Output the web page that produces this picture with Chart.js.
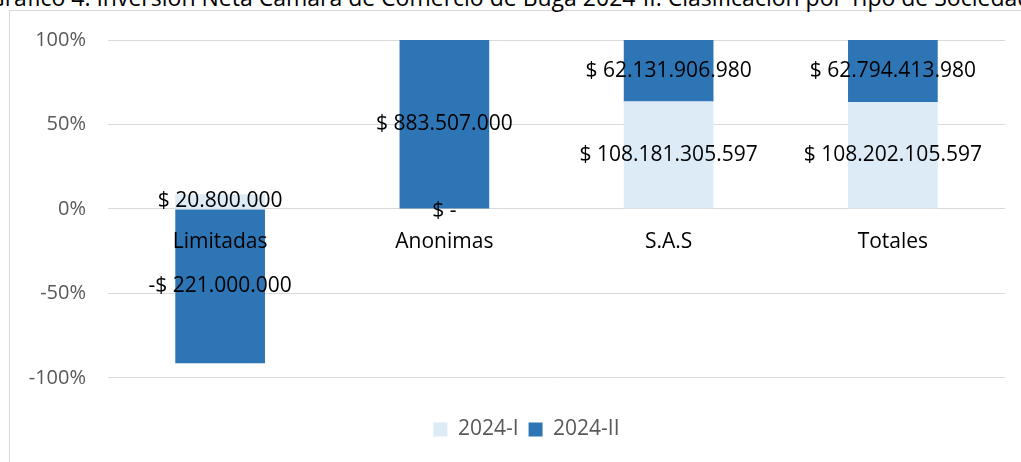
<!DOCTYPE html>
<html>
<head>
<meta charset="utf-8">
<script src="https://cdn.jsdelivr.net/npm/chart.js@4.4.0/dist/chart.umd.min.js"></script>
<style>
  html, body { margin: 0; padding: 0; background: #ffffff; overflow: hidden; }
  #wrap { position: relative; width: 1021px; height: 462px; overflow: hidden; }
  #frame { position: absolute; left: 9px; top: 10px; width: 1100px; height: 500px; border: 1px solid #d9d9d9; box-sizing: border-box; }
  #title { position: absolute; left: -12px; top: -14px; white-space: nowrap; font-family: "Open Sans", sans-serif; font-size: 23px; line-height: 23px; color: #000; }
  #c { position: absolute; left: 0; top: 0; }
</style>
</head>
<body>
<div id="wrap">
  <div id="frame"></div>
  <div id="title">Gráfico 4. Inversión Neta Cámara de Comercio de Buga 2024-II. Clasificación por Tipo de Sociedad</div>
  <canvas id="c" width="1021" height="462"></canvas>
</div>
<script>
const categories = ["Limitadas", "Anonimas", "S.A.S", "Totales"];
const seriesNames = ["2024-I", "2024-II"];
const values2024I = [20800000, 0, 108181305597, 108202105597];
const values2024II = [-221000000, 883507000, 62131906980, 62794413980];
const yTicks = [-100, -50, 0, 50, 100];
const colors = ["#DDEBF7", "#2E75B6"];

const raw = [values2024I, values2024II];
// 100% stacked share (as the spreadsheet does: value / sum of absolute values)
const shares = raw.map(arr => arr.map((v, i) => {
  const tot = raw.reduce((s, a) => s + Math.abs(a[i]), 0);
  return tot ? v / tot * 100 : 0;
}));

function fmt(v) {
  if (v === 0) return "$ -";
  const s = Math.abs(v).toString().replace(/\B(?=(\d{3})+(?!\d))/g, ".");
  return (v < 0 ? "-" : "") + "$ " + s;
}

const FONT = "'Open Sans', sans-serif";

const labelPlugin = {
  id: "segLabels",
  afterLayout(chart) {
    // Excel centres the legend slightly right of the canvas centre
    const lg = chart.legend;
    if (lg) { lg.left += 19; lg.right += 19; }
  },
  afterDatasetsDraw(chart) {
    const ctx = chart.ctx;
    ctx.save();
    ctx.font = "21px " + FONT;
    ctx.fillStyle = "#000000";
    ctx.textAlign = "center";
    ctx.textBaseline = "middle";
    chart.data.datasets.forEach((ds, di) => {
      const meta = chart.getDatasetMeta(di);
      meta.data.forEach((el, i) => {
        const y = (el.y + el.base) / 2;
        ctx.fillText(fmt(raw[di][i]), el.x, y + (raw[di][i] === 0 ? 2 : 0));
      });
    });
    ctx.restore();
  }
};

new Chart(document.getElementById("c"), {
  type: "bar",
  data: {
    labels: categories,
    datasets: seriesNames.map((n, k) => ({
      label: n,
      data: shares[k],
      backgroundColor: colors[k],
      borderWidth: 0,
      barPercentage: 0.4,
      categoryPercentage: 1.0
    }))
  },
  options: {
    responsive: false,
    animation: false,
    devicePixelRatio: 1,
    layout: { padding: { left: 10, right: 16, top: 40, bottom: 12 } },
    plugins: {
      legend: {
        position: "bottom",
        title: { display: true, text: "", font: { size: 1 }, padding: { top: 30, bottom: 0 } },
        labels: {
          boxWidth: 14, boxHeight: 14, padding: 10,
          font: { family: FONT, size: 21 }, color: "#595959"
        }
      },
      tooltip: { enabled: false }
    },
    scales: {
      x: {
        stacked: true,
        position: { y: 0 },
        grid: { display: false },
        border: { display: false },
        ticks: { z: 1, font: { family: FONT, size: 21 }, color: "#000000", padding: 13, maxRotation: 0 }
      },
      y: {
        stacked: true,
        min: -100, max: 100,
        afterBuildTicks: s => { s.ticks = yTicks.map(v => ({ value: v })); },
        afterFit: s => { s.width = 98; },
        grid: { color: "#d9d9d9", lineWidth: 1, drawTicks: false },
        border: { display: false },
        ticks: {
          font: { family: FONT, size: 20 }, color: "#595959", padding: 22,
          callback: v => v + "%"
        }
      }
    }
  },
  plugins: [labelPlugin]
});
</script>
</body>
</html>
